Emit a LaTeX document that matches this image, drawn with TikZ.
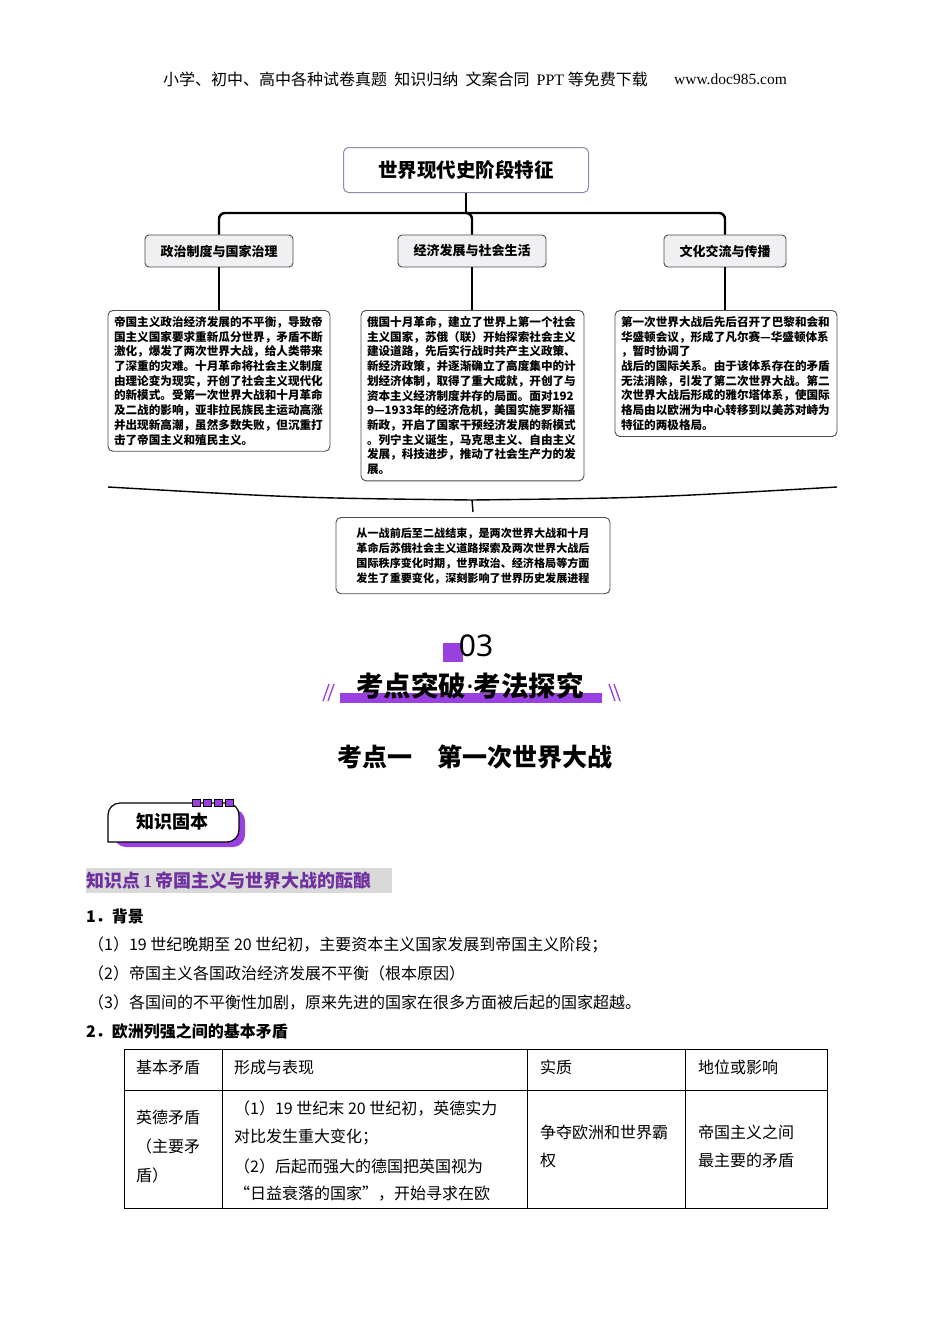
\documentclass[tikz,border=0pt]{standalone}
\usepackage{fontspec}
\setmainfont{Noto Sans CJK SC}
\newfontfamily\latinserif{Liberation Serif}
\newfontfamily\latinsans{Noto Sans}
\usetikzlibrary{positioning,calc}

\definecolor{kdpurple}{HTML}{9B40E0}
\definecolor{kdviolet}{HTML}{7030A0}
\definecolor{titleedge}{HTML}{8C8CA8}
\definecolor{catfill}{HTML}{F0F0F2}

\tikzset{
  titlebox/.style={draw=titleedge, line width=1pt, rounded corners=5pt, fill=white,
    minimum width=245pt, minimum height=45pt, font=\fontsize{19.5}{22}\selectfont\bfseries},
  catbox/.style={draw=black!70, line width=0.9pt, rounded corners=4pt, fill=catfill,
    minimum height=32pt, inner xsep=15.5pt, font=\fontsize{13}{15}\selectfont\bfseries},
  textbox/.style={draw=black!70, line width=0.9pt, rounded corners=5pt, anchor=north,
    inner xsep=6pt, inner ysep=6pt, align=left, font=\fontsize{11.6}{14.7}\selectfont\bfseries},
  link/.style={line width=2.4pt, rounded corners=6pt},
  twig/.style={line width=1.4pt},
  bodytext/.style={anchor=west, inner sep=0pt, font=\fontsize{16}{18}\selectfont},
  headtext/.style={anchor=west, inner sep=0pt, font=\fontsize{16}{18}\selectfont\bfseries}
}

\begin{document}
\begin{tikzpicture}[x=1pt, y=-1pt]
    \useasboundingbox (0,0) rectangle (950,1344);
    \fill[white] (0,0) rectangle (950,1344);

    % Page header
    \node[anchor=west, inner sep=0pt, font=\fontsize{16}{18}\selectfont] (hdr) at (163,79)
      {小学、初中、高中各种试卷真题\ \ 知识归纳\ \ 文案合同\ \ {\latinserif PPT} 等免费下载};
    \node[anchor=east, inner sep=0pt, font=\fontsize{15.5}{17}\selectfont\latinserif] (url) at (787,79) {www.doc985.com};

    % Tree
    \node[titlebox] (stage) at (466,170) {世界现代史阶段特征};
    \node[catbox] (pol) at (219,251) {政治制度与国家治理};
    \node[catbox] (eco) at (472,251) {经济发展与社会生活};
    \node[catbox] (cul) at (725,251) {文化交流与传播};
    \coordinate (bar) at (466,213);
    \draw[link] (stage.south) -- (bar);
    \draw[link] (pol.north) |- (bar) -| (cul.north);
    \draw[link] (bar) -| (eco.north);

    \node[textbox, text width=210pt] (polt) at (219,310) {帝国主义政治经济发展的不平衡，导致帝\\
      国主义国家要求重新瓜分世界，矛盾不断\\
      激化，爆发了两次世界大战，给人类带来\\
      了深重的灾难。十月革命将社会主义制度\\
      由理论变为现实，开创了社会主义现代化\\
      的新模式。受第一次世界大战和十月革命\\
      及二战的影响，亚非拉民族民主运动高涨\\
      并出现新高潮，虽然多数失败，但沉重打\\
      击了帝国主义和殖民主义。};
    \node[textbox, text width=211pt] (ecot) at (472.5,310) {俄国十月革命，建立了世界上第一个社会\\
      主义国家，苏俄（联）开始探索社会主义\\
      建设道路，先后实行战时共产主义政策、\\
      新经济政策，并逐渐确立了高度集中的计\\
      划经济体制，取得了重大成就，开创了与\\
      资本主义经济制度并存的局面。面对192\\
      9—1933年的经济危机，美国实施罗斯福\\
      新政，开启了国家干预经济发展的新模式\\
      。列宁主义诞生，马克思主义、自由主义\\
      发展，科技进步，推动了社会生产力的发\\
      展。};
    \node[textbox, text width=210pt] (cult) at (726,310) {第一次世界大战后先后召开了巴黎和会和\\
      华盛顿会议，形成了凡尔赛—华盛顿体系\\
      ，暂时协调了\\
      战后的国际关系。由于该体系存在的矛盾\\
      无法消除，引发了第二次世界大战。第二\\
      次世界大战后形成的雅尔塔体系，使国际\\
      格局由以欧洲为中心转移到以美苏对峙为\\
      特征的两极格局。};
    \draw[twig] (pol.south) -- (pol.south |- polt.north);
    \draw[twig] (eco.south) -- (eco.south |- ecot.north);
    \draw[twig] (cul.south) -- (cul.south |- cult.north);

    % Brace and summary
    \coordinate (braceL) at (108,487);
    \coordinate (braceR) at (837,487);
    \coordinate (braceM) at (472,500);
    \draw[line width=1.4pt] (braceL) .. controls (300,498) .. (braceM) .. controls (645,498) .. (braceR);
    \node[textbox, anchor=north, align=center, text width=246pt, inner xsep=14pt, inner ysep=10pt,
      font=\fontsize{11.1}{15}\selectfont\bfseries] (sum) at (473,517)
      {从一战前后至二战结束，是两次世界大战和十月\\
       革命后苏俄社会主义道路探索及两次世界大战后\\
       国际秩序变化时期，世界政治、经济格局等方面\\
       发生了重要变化，深刻影响了世界历史发展进程};
    \draw[twig] (braceM) -- ([yshift=5pt]sum.north);

    % Section 03
    \fill[kdpurple] (443,643) rectangle (463,662);
    \node[inner sep=0pt, font=\fontsize{30}{32}\selectfont\latinsans] (num) at (476,646) {03};
    \fill[kdpurple] (340,693) rectangle (602,703);
    \node[inner sep=0pt, font=\fontsize{27.5}{30}\selectfont\bfseries] (sec) at (470,686) {考点突破{\latinsans\bfseries\textperiodcentered}考法探究};
    \foreach \dx in {0,5} {
      \draw[kdpurple, line width=1.3pt] (323+\dx,701) -- (329+\dx,684);
      \draw[kdpurple, line width=1.3pt] (609+\dx,684) -- (615+\dx,701);
    }

    % Topic
    \node[inner sep=0pt, font=\fontsize{25}{27}\selectfont\bfseries] (topic) at (475,757) {考点一\hspace{1em}第一次世界大战};

    % Badge
    \fill[kdpurple, rounded corners=12pt] (114,847) -- (114,809) -- (245,809) -- (245,847) -- cycle;
    \draw[line width=1.2pt, fill=white] (108,842) [rounded corners=12pt] -- (108,803) -- (239,803) -- (239,842) [sharp corners] -- cycle;
    \foreach \sx in {192,203,214,225}
      \draw[fill=kdpurple, line width=0.9pt] (\sx,799) rectangle ++(8,7);
    \node[inner sep=0pt, font=\fontsize{18}{20}\selectfont\bfseries] (badge) at (172,822) {知识固本};

    % Knowledge point
    \fill[black!15] (86,868) rectangle (392,893);
    \node[anchor=west, inner sep=0pt, text=kdviolet, font=\fontsize{18}{20}\selectfont\bfseries] (kp) at (86,881)
      {知识点{\latinserif\,1\,}帝国主义与世界大战的酝酿};

    % Background
    \node[headtext] (bg) at (86,916) {1．背景};
    \node[bodytext] (bg1) at (88,945) {（1）19 世纪晚期至 20 世纪初，主要资本主义国家发展到帝国主义阶段；};
    \node[bodytext] (bg2) at (88,973) {（2）帝国主义各国政治经济发展不平衡（根本原因）};
    \node[bodytext] (bg3) at (88,1002) {（3）各国间的不平衡性加剧，原来先进的国家在很多方面被后起的国家超越。};
    \node[headtext] (ct) at (86,1031) {2．欧洲列强之间的基本矛盾};

    % Table
    \draw[line width=0.8pt] (124,1049) rectangle (827,1208);
    \draw[line width=0.8pt] (124,1090) -- (827,1090);
    \foreach \cx in {222,527,685}
      \draw[line width=0.8pt] (\cx,1049) -- (\cx,1208);
    \node[bodytext] (h1) at (136,1067) {基本矛盾};
    \node[bodytext] (h2) at (234,1067) {形成与表现};
    \node[bodytext] (h3) at (540,1067) {实质};
    \node[bodytext] (h4) at (698,1067) {地位或影响};
    \node[bodytext] (c1a) at (136,1117) {英德矛盾};
    \node[bodytext] (c1b) at (136,1146) {（主要矛};
    \node[bodytext] (c1c) at (136,1175) {盾）};
    \node[bodytext] (c2a) at (234,1108) {（1）19 世纪末 20 世纪初，英德实力};
    \node[bodytext] (c2b) at (234,1137) {对比发生重大变化；};
    \node[bodytext] (c2c) at (234,1166) {（2）后起而强大的德国把英国视为};
    \node[bodytext] (c2d) at (234,1194) {“日益衰落的国家”，开始寻求在欧};
    \node[bodytext] (c3a) at (540,1132) {争夺欧洲和世界霸};
    \node[bodytext] (c3b) at (540,1160) {权};
    \node[bodytext] (c4a) at (698,1132) {帝国主义之间};
    \node[bodytext] (c4b) at (698,1160) {最主要的矛盾};
\end{tikzpicture}
\end{document}
